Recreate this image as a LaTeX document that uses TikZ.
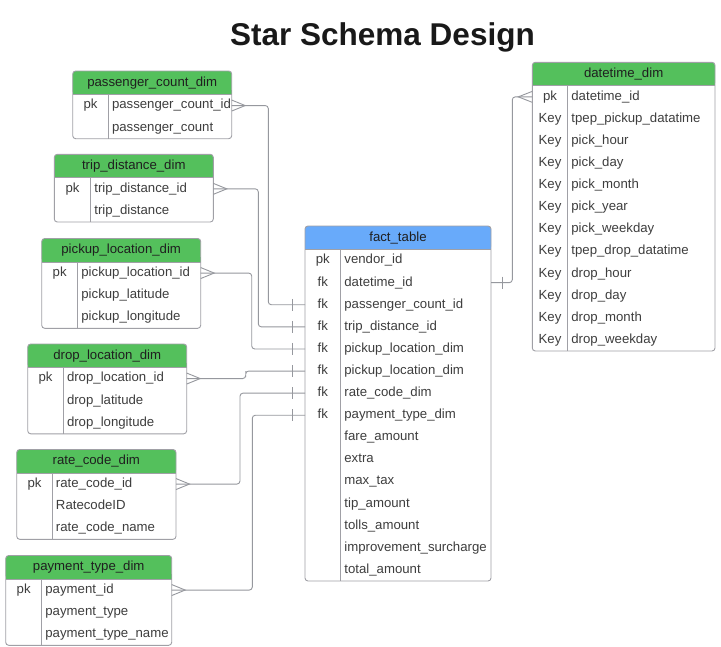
\documentclass[tikz,border=0pt]{standalone}
\usepackage{fontspec}
\setmainfont{Liberation Sans}
\usetikzlibrary{calc}
\definecolor{hdrgreen}{RGB}{84,192,92}
\definecolor{hdrblue}{RGB}{104,170,250}
\definecolor{bordergray}{RGB}{160,160,166}
\definecolor{linegray}{RGB}{150,152,158}
\definecolor{txtgray}{RGB}{62,62,62}
\tikzset{
  cell/.style={inner sep=0pt, text height=9.5pt, text depth=2.8pt, font=\fontsize{13.2}{15}\selectfont, text=txtgray},
  keycell/.style={cell},
  fieldcell/.style={cell, anchor=west},
  titlecell/.style={cell, text=black!88},
  tborder/.style={draw=bordergray, line width=0.9pt},
  conn/.style={draw=linegray, line width=0.9pt, rounded corners=3pt},
  footline/.style={draw=linegray, line width=0.9pt, sharp corners},
}
% #1 name, #2 left, #3 divider, #4 right, #5 top, #6 rows, #7 title, #8 header colour, #9 key/field list
\newcommand{\ertable}[9]{%
  \pgfmathsetmacro{\hb}{#5+23.5}%
  \pgfmathsetmacro{\tb}{#5+23.5+22.1*#6}%
  \fill[#8, rounded corners=3pt] (#2,#5) rectangle (#4,\hb);
  \fill[#8] (#2,{\hb-5}) rectangle (#4,\hb);
  \node[titlecell] (#1) at ({(#2+#4)/2},{(#5+\hb)/2}) {#7};
  \draw[tborder, rounded corners=3pt] (#2,#5) rectangle (#4,\tb);
  \draw[tborder] (#2,\hb) -- (#4,\hb);
  \draw[tborder] (#3,\hb) -- (#3,\tb);
  \foreach [count=\i] \rowkey/\rowfield in {#9} {
    \pgfmathsetmacro{\ry}{\hb+22.1*\i-11.05}
    \node[keycell] (#1-k\i) at ({(#2+#3)/2},\ry) {\rowkey};
    \node[fieldcell] (#1-f\i) at ({#3+3.5},\ry) {\rowfield};
    \coordinate (#1-l\i) at (#2,\ry);
    \coordinate (#1-r\i) at (#4,\ry);
  }%
}
\newcommand{\crowright}[1]{\draw[footline] ($(#1)+(0,-5.5)$) -- ($(#1)+(13.5,0)$) -- ($(#1)+(0,5.5)$);}
\newcommand{\crowleft}[1]{\draw[footline] ($(#1)+(0,-5.5)$) -- ($(#1)+(-14,0)$) -- ($(#1)+(0,5.5)$);}
\newcommand{\tickmark}[2]{\draw[footline] ($(#1)+(#2,-6)$) -- ($(#1)+(#2,6)$);}
\begin{document}
\begin{tikzpicture}[x=1pt,y=-1pt]
\useasboundingbox (0,0) rectangle (721,646);
\fill[white] (0,0) rectangle (721,646);

\node[anchor=base, inner sep=0pt, font=\fontsize{31.5}{36}\selectfont\bfseries, text=black!90] (title) at (382.5,45) {Star Schema Design};

\ertable{pcd}{72.7}{108.3}{231.7}{71}{2}{passenger\_count\_dim}{hdrgreen}{pk/passenger\_count\_id, /passenger\_count}
\ertable{tdd}{54.3}{90.7}{213.3}{154.3}{2}{trip\_distance\_dim}{hdrgreen}{pk/trip\_distance\_id, /trip\_distance}
\ertable{pld}{41.7}{77.7}{200.7}{238.5}{3}{pickup\_location\_dim}{hdrgreen}{pk/pickup\_location\_id, /pickup\_latitude, /pickup\_longitude}
\ertable{dld}{27.7}{63.3}{186.7}{344}{3}{drop\_location\_dim}{hdrgreen}{pk/drop\_location\_id, /drop\_latitude, /drop\_longitude}
\ertable{rcd}{16.7}{52.3}{176}{449.5}{3}{rate\_code\_dim}{hdrgreen}{pk/rate\_code\_id, /RatecodeID, /rate\_code\_name}
\ertable{ptd}{5.7}{41.7}{171.7}{555.5}{3}{payment\_type\_dim}{hdrgreen}{pk/payment\_id, /payment\_type, /payment\_type\_name}
\ertable{dtd}{532.3}{567.7}{715}{62.3}{12}{datetime\_dim}{hdrgreen}{pk/datetime\_id, Key/tpep\_pickup\_datatime, Key/pick\_hour, Key/pick\_day, Key/pick\_month, Key/pick\_year, Key/pick\_weekday, Key/tpep\_drop\_datatime, Key/drop\_hour, Key/drop\_day, Key/drop\_month, Key/drop\_weekday}
\ertable{fact}{305}{340.7}{491}{226}{15}{fact\_table}{hdrblue}{pk/vendor\_id, fk/datetime\_id, fk/passenger\_count\_id, fk/trip\_distance\_id, fk/pickup\_location\_dim, fk/pickup\_location\_dim, fk/rate\_code\_dim, fk/payment\_type\_dim, /fare\_amount, /extra, /max\_tax, /tip\_amount, /tolls\_amount, /improvement\_surcharge, /total\_amount}

% connectors
\draw[conn] (pcd-r1) -| (268.3,200) |- (fact-l3);
\draw[conn] (tdd-r1) -| (258.3,250) |- (fact-l4);
\draw[conn] (pld-r1) -| (251.7,310) |- (fact-l5);
\draw[conn] (dld-r1) -| (245.7,374) |- (fact-l6);
\draw[conn] (rcd-r1) -| (240,440) |- (fact-l7);
\draw[conn] (ptd-r1) -| (252.3,500) |- (fact-l8);
\draw[conn] (fact-r2) -| (512.3,200) |- (dtd-l1);

\crowright{pcd-r1}
\crowright{tdd-r1}
\crowright{pld-r1}
\crowright{dld-r1}
\crowright{rcd-r1}
\crowright{ptd-r1}
\crowleft{dtd-l1}
\tickmark{fact-l3}{-13}
\tickmark{fact-l4}{-13}
\tickmark{fact-l5}{-13}
\tickmark{fact-l6}{-13}
\tickmark{fact-l7}{-13}
\tickmark{fact-l8}{-13}
\tickmark{fact-r2}{11.7}
\end{tikzpicture}
\end{document}
